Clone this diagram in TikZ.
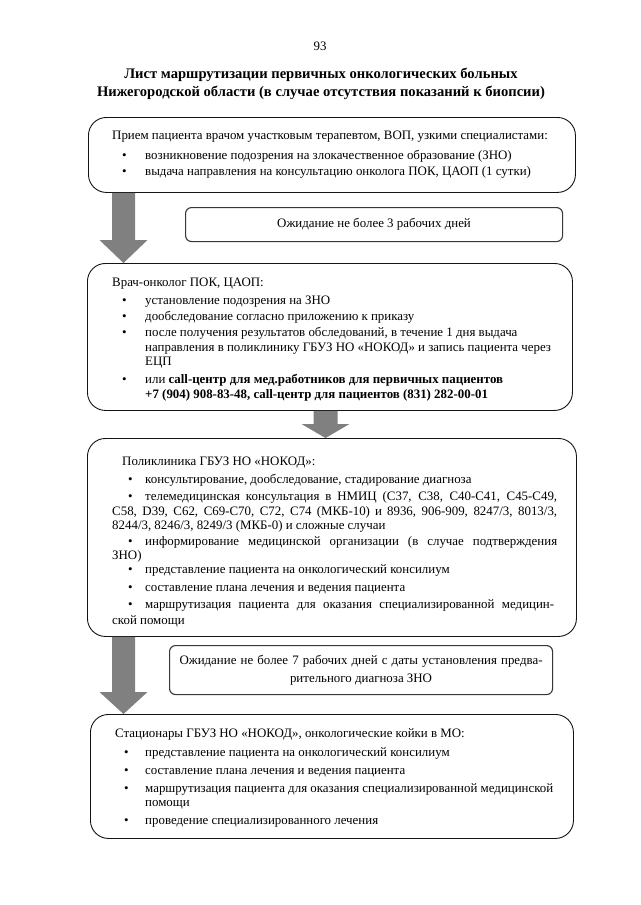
\documentclass[tikz,border=0pt]{standalone}
\usepackage{fontspec}
\setmainfont{Liberation Serif}
\usetikzlibrary{calc}
\definecolor{arrowgray}{RGB}{128,128,128}
\definecolor{boxline}{RGB}{20,20,20}
\newcommand{\bodyfont}{\fontsize{12.9}{15}\selectfont}
\newcommand{\ttlfont}{\fontsize{14.6}{18}\selectfont\bfseries}
\newcommand{\jline}[2]{\makebox[#1][s]{#2}}
\begin{document}
\begin{tikzpicture}[x=1pt,y=-1pt,
  bigbox/.style={draw=boxline, line width=0.9pt, rounded corners=18pt, anchor=north west, inner sep=0pt},
  smallbox/.style={draw=boxline!85, line width=1.1pt, rounded corners=6pt, anchor=north west, inner sep=0pt, font=\bodyfont, align=center},
  txt/.style={anchor=base west, inner sep=0pt, font=\bodyfont},
  bul/.style={anchor=base west, inner sep=0pt, font=\bodyfont},
  ttl/.style={anchor=base, inner sep=0pt, font=\ttlfont},
  blockarrow/.style={fill=arrowgray, draw=none}]
\useasboundingbox[fill=white] (0,0) rectangle (640,905);

\node[txt, anchor=base] (pg) at (320,50) {93};
\node[ttl] (t1) at (321,78) {Лист маршрутизации первичных онкологических больных};
\node[ttl] (t2) at (321,96) {Нижегородской области (в случае отсутствия показаний к биопсии)};

% Box 1
\node[bigbox, minimum width=487pt, minimum height=75pt] (b1) at (88,117) {};
\node[txt] (b1l1) at (112,139) {Прием пациента врачом участковым терапевтом, ВОП, узкими специалистами:};
\node[bul] (b1u1) at (122,159) {•};
\node[txt] (b1l2) at (145,159) {возникновение подозрения на злокачественное образование (ЗНО)};
\node[bul] (b1u2) at (122,175) {•};
\node[txt] (b1l3) at (145,175) {выдача направления на консультацию онколога ПОК, ЦАОП (1 сутки)};

% Wait 1
\node[smallbox, minimum width=377pt, minimum height=34pt] (w1) at (185,207) {Ожидание не более 3 рабочих дней};

% Box 2
\node[bigbox, minimum width=485pt, minimum height=147pt] (b2) at (87,263) {};
\node[txt] (b2l1) at (112,286) {Врач-онколог ПОК, ЦАОП:};
\node[bul] (b2u1) at (122,304) {•};
\node[txt] (b2l2) at (145,304) {установление подозрения на ЗНО};
\node[bul] (b2u2) at (122,320) {•};
\node[txt] (b2l3) at (145,320) {дообследование согласно приложению к приказу};
\node[bul] (b2u3) at (122,336) {•};
\node[txt] (b2l4) at (145,336) {после получения результатов обследований, в течение 1 дня выдача};
\node[txt] (b2l5) at (145,351) {направления в поликлинику ГБУЗ НО «НОКОД» и запись пациента через};
\node[txt] (b2l6) at (145,365) {ЕЦП};
\node[bul] (b2u4) at (122,383) {•};
\node[txt] (b2l7) at (145,383) {или \textbf{call-центр для мед.работников для первичных пациентов}};
\node[txt] (b2l8) at (145,398) {\textbf{+7 (904) 908-83-48, call-центр для пациентов (831) 282-00-01}};

% Box 3
\node[bigbox, minimum width=489pt, minimum height=198pt] (b3) at (87,438) {};
\node[txt] (b3l1) at (122,465) {Поликлиника ГБУЗ НО «НОКОД»:};
\node[bul] (b3u1) at (128,483) {•};
\node[txt] (b3l2) at (145,483) {консультирование, дообследование, стадирование диагноза};
\node[bul] (b3u2) at (128,500) {•};
\node[txt] (b3l3) at (145,500) {\jline{412pt}{телемедицинская консультация в НМИЦ (C37, C38, C40-C41, C45-C49,}};
\node[txt] (b3l4) at (112,515) {\jline{445pt}{C58, D39, C62, C69-C70, C72, C74 (МКБ-10) и 8936, 906-909, 8247/3, 8013/3,}};
\node[txt] (b3l5) at (112,529) {8244/3, 8246/3, 8249/3 (МКБ-0) и сложные случаи};
\node[bul] (b3u3) at (128,545) {•};
\node[txt] (b3l6) at (145,545) {\jline{412pt}{информирование медицинской организации (в случае подтверждения}};
\node[txt] (b3l7) at (112,559) {ЗНО)};
\node[bul] (b3u4) at (128,573) {•};
\node[txt] (b3l8) at (145,573) {представление пациента на онкологический консилиум};
\node[bul] (b3u5) at (128,591) {•};
\node[txt] (b3l9) at (145,591) {составление плана лечения и ведения пациента};
\node[bul] (b3u6) at (128,608) {•};
\node[txt] (b3l10) at (145,608) {\jline{409pt}{маршрутизация пациента для оказания специализированной медицин-}};
\node[txt] (b3l11) at (112,624) {ской помощи};

% Wait 2
\node[smallbox, minimum width=383pt, minimum height=49pt] (w2) at (169,645) {\jline{363pt}{Ожидание не более 7 рабочих дней с даты установления предва-}\\[3pt]рительного диагноза ЗНО};

% Box 4
\node[bigbox, minimum width=483pt, minimum height=124pt] (b4) at (90,714) {};
\node[txt] (b4l1) at (115,737) {Стационары ГБУЗ НО «НОКОД», онкологические койки в МО:};
\node[bul] (b4u1) at (124,756) {•};
\node[txt] (b4l2) at (145,756) {представление пациента на онкологический консилиум};
\node[bul] (b4u2) at (124,774) {•};
\node[txt] (b4l3) at (145,774) {составление плана лечения и ведения пациента};
\node[bul] (b4u3) at (124,792) {•};
\node[txt] (b4l4) at (145,792) {маршрутизация пациента для оказания специализированной медицинской};
\node[txt] (b4l5) at (145,806) {помощи};
\node[bul] (b4u4) at (124,824) {•};
\node[txt] (b4l6) at (145,824) {проведение специализированного лечения};

% Block arrows
\coordinate (ax1) at (123.5,0);
\coordinate (ax2) at (325.5,0);
\coordinate (a1s) at (ax1|-b1.south);
\coordinate (a1t) at (ax1|-b2.north);
\coordinate (a2s) at (ax2|-b2.south);
\coordinate (a2t) at (ax2|-b3.north);
\coordinate (a3s) at (ax1|-b3.south);
\coordinate (a3t) at (ax1|-b4.north);

\fill[blockarrow] ($(a1s)+(-11.5,0)$) -- ($(a1s)+(11.5,0)$) -- ($(a1t)+(11.5,-23)$) -- ($(a1t)+(24,-23)$) -- (a1t) -- ($(a1t)+(-24,-23)$) -- ($(a1t)+(-11.5,-23)$) -- cycle;
\fill[blockarrow] ($(a2s)+(-12,0)$) -- ($(a2s)+(12,0)$) -- ($(a2t)+(12,-14)$) -- ($(a2t)+(24,-14)$) -- (a2t) -- ($(a2t)+(-24,-14)$) -- ($(a2t)+(-12,-14)$) -- cycle;
\fill[blockarrow] ($(a3s)+(-11.5,0)$) -- ($(a3s)+(11.5,0)$) -- ($(a3t)+(11.5,-22)$) -- ($(a3t)+(24,-22)$) -- (a3t) -- ($(a3t)+(-24,-22)$) -- ($(a3t)+(-11.5,-22)$) -- cycle;
\end{tikzpicture}
\end{document}
